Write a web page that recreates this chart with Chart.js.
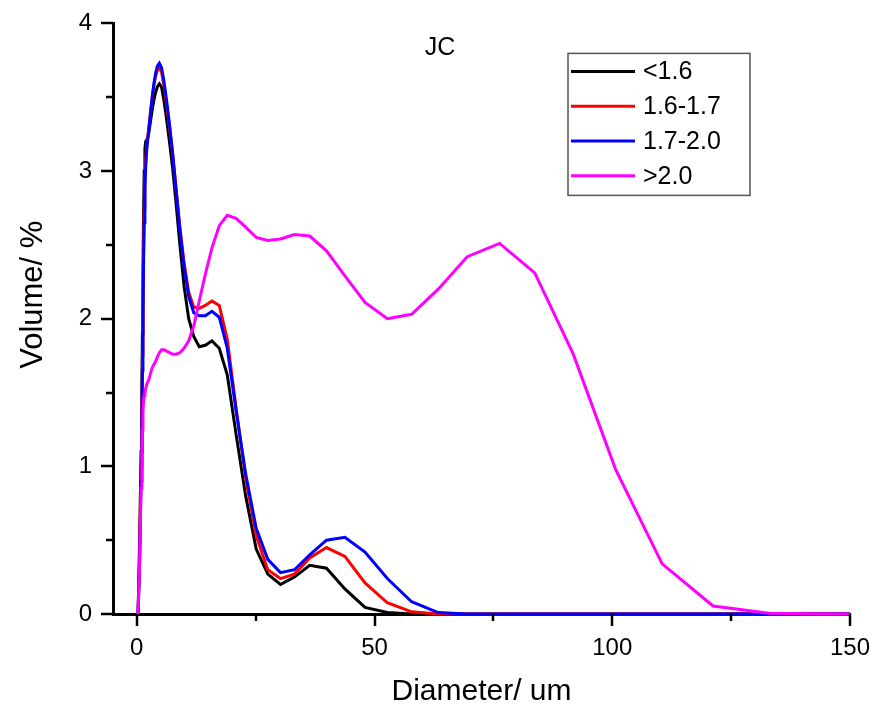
<!DOCTYPE html>
<html>
<head>
<meta charset="utf-8">
<script src="https://cdn.jsdelivr.net/npm/chart.js@4/dist/chart.umd.min.js"></script>
<style>
  html, body { margin: 0; padding: 0; background: #ffffff; }
  #wrap { width: 892px; height: 712px; }
</style>
</head>
<body>
<div id="wrap"><canvas id="c" width="892" height="712"></canvas></div>
<script>
// Particle size bins (um), log spaced
const diameters = [0.27, 0.6, 0.9, 1.08, 1.18, 1.30, 1.42, 1.56, 1.71, 1.88, 2.06, 2.26, 2.48, 2.72, 2.99,
  3.28, 3.60, 3.94, 4.33, 4.75, 5.21, 5.71, 6.27, 6.87, 7.54, 8.27, 9.07, 9.95, 10.92, 11.98, 13.14,
  14.41, 15.81, 17.35, 19.03, 20.87, 22.90, 25.12, 27.55, 30.22, 33.16, 36.37, 39.90, 43.77, 48.0,
  52.7, 57.8, 63.4, 69.5, 76.3, 83.7, 91.8, 100.7, 110.5, 121.2, 133.0, 145.9, 160.0];

// Volume % per bin for each density fraction
const volLt16 = [0, 0.5, 1.1, 1.5, 1.9, 2.3, 2.7, 3.0, 3.15, 3.2, 3.21, 3.22, 3.25, 3.3, 3.36,
  3.42, 3.48, 3.53, 3.57, 3.59, 3.57, 3.48, 3.35, 3.2, 3.02, 2.78, 2.5, 2.22, 2.0, 1.88, 1.81,
  1.82, 1.85, 1.80, 1.62, 1.22, 0.80, 0.44, 0.27, 0.20, 0.25, 0.33, 0.31, 0.17, 0.045,
  0.01, 0, 0, 0, 0, 0, 0, 0, 0, 0, 0, 0, 0];
const vol16to17 = [0, 0.4, 1.0, 1.4, 1.75, 2.1, 2.45, 2.75, 2.95, 3.08, 3.16, 3.22, 3.28, 3.35, 3.43,
  3.51, 3.58, 3.64, 3.68, 3.70, 3.67, 3.58, 3.45, 3.3, 3.12, 2.88, 2.62, 2.38, 2.18, 2.08, 2.07,
  2.09, 2.12, 2.09, 1.86, 1.40, 0.92, 0.53, 0.30, 0.24, 0.27, 0.38, 0.45, 0.39, 0.21,
  0.076, 0.015, 0, 0, 0, 0, 0, 0, 0, 0, 0, 0, 0];
const vol17to20 = [0, 0.35, 0.9, 1.3, 1.65, 2.0, 2.35, 2.65, 2.88, 3.03, 3.13, 3.2, 3.26, 3.34, 3.42,
  3.51, 3.59, 3.66, 3.71, 3.73, 3.70, 3.61, 3.48, 3.32, 3.12, 2.87, 2.6, 2.35, 2.15, 2.04, 2.02,
  2.02, 2.05, 2.01, 1.80, 1.38, 0.95, 0.58, 0.37, 0.28, 0.30, 0.40, 0.50, 0.52, 0.42,
  0.24, 0.083, 0.01, 0, 0, 0, 0, 0, 0, 0, 0, 0, 0];
const volGt20 = [0, 0.35, 0.85, 1.1, 1.25, 1.37, 1.44, 1.48, 1.50, 1.53, 1.55, 1.57, 1.58, 1.61, 1.64,
  1.67, 1.69, 1.71, 1.74, 1.77, 1.79, 1.79, 1.78, 1.77, 1.76, 1.76, 1.77, 1.80, 1.85, 1.95, 2.12,
  2.30, 2.48, 2.63, 2.70, 2.68, 2.62, 2.55, 2.53, 2.54, 2.57, 2.56, 2.46, 2.29, 2.11,
  2.00, 2.03, 2.20, 2.42, 2.51, 2.31, 1.76, 0.98, 0.34, 0.054, 0.005, 0, 0];

const seriesLabels = ['<1.6', '1.6-1.7', '1.7-2.0', '>2.0'];
const seriesColors = ['#000000', '#ff0000', '#0000ff', '#ff00ff'];
const seriesValues = [volLt16, vol16to17, vol17to20, volGt20];

const xTickValues = [0, 50, 100, 150];
const xMinorStep = 25;
const yTickValues = [0, 1, 2, 3, 4];
const yMinorStep = 0.5;

const FONT = '"Liberation Sans", Arial, Helvetica, sans-serif';

const datasets = seriesValues.map((vals, i) => ({
  label: seriesLabels[i],
  data: diameters.map((d, j) => ({ x: d, y: vals[j] })),
  borderColor: seriesColors[i],
  backgroundColor: seriesColors[i],
  borderWidth: 3,
  pointRadius: 0,
  tension: 0,
  fill: false,
  order: seriesValues.length - i,
  clip: { left: 4, top: 4, right: 0, bottom: 4 }
}));

// Outward tick marks: long at labelled values, short at minor steps
const tickMarks = {
  id: 'tickMarks',
  afterDraw(chart) {
    const ctx = chart.ctx;
    const xs = chart.scales.x, ys = chart.scales.y;
    const area = chart.chartArea;
    ctx.save();
    ctx.strokeStyle = '#000';
    ctx.lineWidth = 2.5;
    ctx.lineCap = 'butt';
    for (let v = 0; v <= ys.max + 1e-9; v += yMinorStep) {
      const major = yTickValues.some(t => Math.abs(t - v) < 1e-9);
      const len = major ? 12 : 7;
      const py = Math.round(ys.getPixelForValue(v));
      ctx.beginPath();
      ctx.moveTo(area.left, py);
      ctx.lineTo(area.left - len, py);
      ctx.stroke();
    }
    for (let v = 0; v <= xs.max + 1e-9; v += xMinorStep) {
      const major = xTickValues.some(t => Math.abs(t - v) < 1e-9);
      const len = major ? 12 : 7;
      const px = Math.round(xs.getPixelForValue(v));
      ctx.beginPath();
      ctx.moveTo(px, area.bottom);
      ctx.lineTo(px, area.bottom + len);
      ctx.stroke();
    }
    ctx.restore();
  }
};

// Sample name, y-axis title and boxed legend
const insideText = {
  id: 'insideText',
  afterDraw(chart) {
    const ctx = chart.ctx;
    const area = chart.chartArea;
    ctx.save();
    ctx.fillStyle = '#000';
    ctx.font = '25px ' + FONT;
    ctx.textAlign = 'center';
    ctx.textBaseline = 'middle';
    ctx.fillText('JC', area.left + 327, area.top + 25);

    // y-axis title, rotated
    ctx.save();
    ctx.translate(33, (area.top + area.bottom) / 2 - 24);
    ctx.rotate(-Math.PI / 2);
    ctx.font = '31px ' + FONT;
    ctx.fillText('Volume/ %', 0, 0);
    ctx.restore();

    const bx = area.left + 455, by = area.top + 30, bw = 182, bh = 142;
    ctx.strokeStyle = '#555';
    ctx.lineWidth = 1.5;
    ctx.strokeRect(bx, by, bw, bh);
    ctx.textAlign = 'left';
    ctx.font = '25px ' + FONT;
    chart.data.datasets.forEach((ds, i) => {
      const ry = by + 18 + i * 34.8;
      ctx.strokeStyle = ds.borderColor;
      ctx.lineWidth = 3;
      ctx.beginPath();
      ctx.moveTo(bx + 3, ry);
      ctx.lineTo(bx + 67, ry);
      ctx.stroke();
      ctx.fillStyle = '#000';
      ctx.fillText(ds.label, bx + 75, ry + 1);
    });
    ctx.restore();
  }
};

new Chart(document.getElementById('c'), {
  type: 'line',
  data: { datasets },
  options: {
    responsive: false,
    devicePixelRatio: 1,
    animation: false,
    layout: { padding: { top: 19, right: 42, left: 0, bottom: 0 } },
    plugins: {
      legend: { display: false },
      title: { display: false },
      tooltip: { enabled: false }
    },
    scales: {
      x: {
        type: 'linear',
        min: -5,
        max: 150,
        afterBuildTicks: (s) => { s.ticks = xTickValues.map(v => ({ value: v })); },
        afterFit: (s) => { s.height = 98; },
        grid: { drawOnChartArea: false, drawTicks: true, tickLength: 12, tickColor: 'rgba(0,0,0,0)' },
        border: { display: true, color: '#000', width: 3 },
        ticks: { color: '#000', font: { family: FONT, size: 24 }, padding: 8, maxRotation: 0, autoSkip: false },
        title: { display: true, text: 'Diameter/ um', color: '#000', font: { family: FONT, size: 30 }, padding: { top: 0, bottom: 2 } }
      },
      y: {
        type: 'linear',
        min: 0,
        max: 4,
        afterBuildTicks: (s) => { s.ticks = yTickValues.map(v => ({ value: v })); },
        afterFit: (s) => { s.width = 113; },
        grid: { drawOnChartArea: false, drawTicks: true, tickLength: 12, tickColor: 'rgba(0,0,0,0)' },
        border: { display: true, color: '#000', width: 3 },
        ticks: { color: '#000', font: { family: FONT, size: 24 }, padding: 9, autoSkip: false },
        title: { display: false }
      }
    }
  },
  plugins: [tickMarks, insideText]
});
</script>
</body>
</html>
